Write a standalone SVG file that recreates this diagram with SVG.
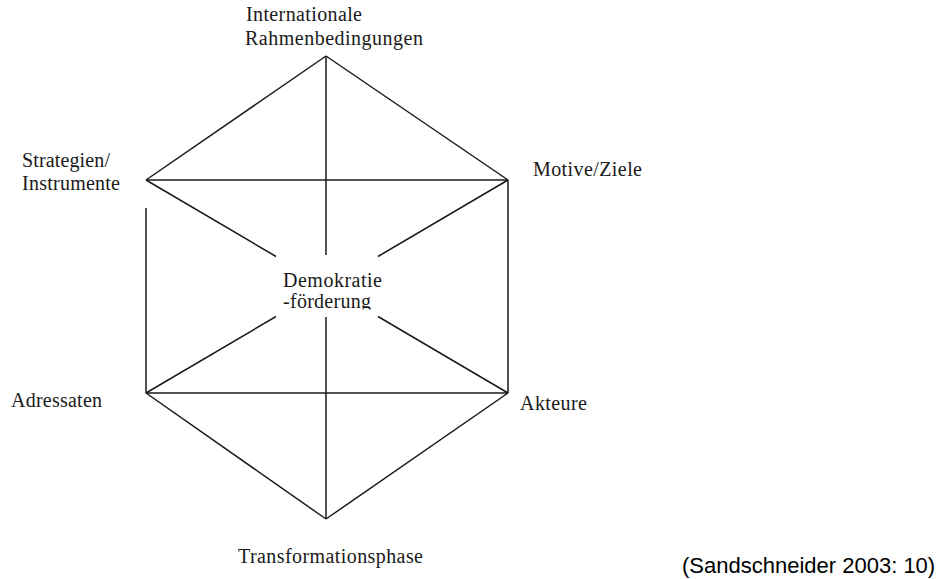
<svg xmlns="http://www.w3.org/2000/svg" width="943" height="579" viewBox="0 0 943 579">
<style>
.l{stroke:#1a1a1a;stroke-width:1.5;fill:none}
.t{font-family:"Liberation Serif","Times New Roman",serif;font-size:20px;fill:#1a1a1a}
.c{font-family:"Liberation Sans",Arial,sans-serif;font-size:22px;fill:#000}
</style>
<defs><clipPath id="cc"><rect x="270" y="260" width="120" height="49.5"/></clipPath></defs>
<rect width="943" height="579" fill="#fff"/>
<g id="connectors">
<line class="l" x1="326" y1="56" x2="146" y2="180"/>
<line class="l" x1="326" y1="56" x2="508" y2="180"/>
<line class="l" x1="146" y1="180" x2="508" y2="180"/>
<line class="l" x1="326" y1="56" x2="326" y2="255"/>
<line class="l" x1="326" y1="317" x2="326" y2="519"/>
<line class="l" x1="146" y1="180" x2="276" y2="256.5"/>
<line class="l" x1="378" y1="316.5" x2="508" y2="393"/>
<line class="l" x1="508" y1="180" x2="378" y2="256.5"/>
<line class="l" x1="276" y1="316.5" x2="146" y2="393"/>
<line class="l" x1="508" y1="180" x2="508" y2="393"/>
<line class="l" x1="146" y1="208" x2="146" y2="393"/>
<line class="l" x1="146" y1="393" x2="508" y2="393"/>
<line class="l" x1="146" y1="393" x2="326" y2="519"/>
<line class="l" x1="508" y1="393" x2="326" y2="519"/>
</g>
<g id="n-top"><text class="t" x="246" y="21" textLength="116">Internationale</text><text class="t" x="245" y="45" textLength="178">Rahmenbedingungen</text></g>
<g id="n-strategien"><text class="t" x="22" y="167" textLength="88">Strategien/</text><text class="t" x="22" y="190" textLength="98">Instrumente</text></g>
<g id="n-motive"><text class="t" x="533" y="176" textLength="109">Motive/Ziele</text></g>
<g id="n-center"><g clip-path="url(#cc)"><text class="t" x="283" y="287" textLength="99">Demokratie</text><text class="t" x="283" y="308" textLength="88">-förderung</text></g></g>
<g id="n-adressaten"><text class="t" x="11" y="407" textLength="91">Adressaten</text></g>
<g id="n-akteure"><text class="t" x="520" y="410" textLength="67">Akteure</text></g>
<g id="n-bottom"><text class="t" x="238" y="563" textLength="185">Transformationsphase</text></g>
<g id="caption"><text class="c" x="682" y="573">(Sandschneider 2003: 10)</text></g>
</svg>
